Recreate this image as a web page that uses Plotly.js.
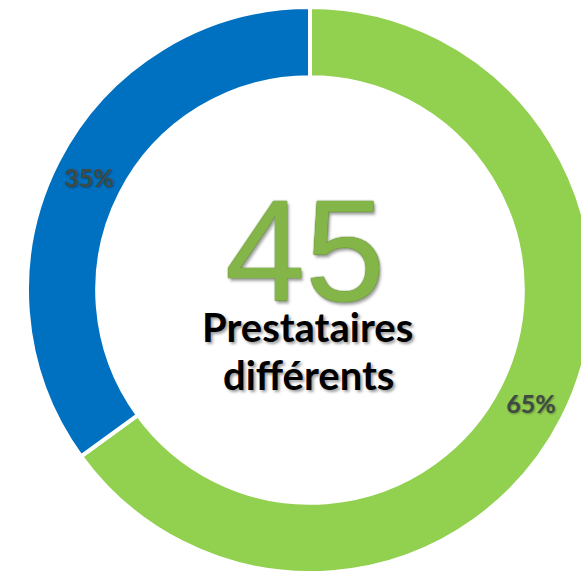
<!DOCTYPE html>
<html>
<head>
<meta charset="utf-8">
<script src="https://cdn.plot.ly/plotly-3.0.1.min.js"></script>
<style>
html,body{margin:0;padding:0;overflow:hidden;background:#fff;}
#chart{width:620px;height:600px;}
</style>
</head>
<body>
<div id="chart"></div>
<script>
const categories = ["Groupe A", "Groupe B"];
const values = [65, 35];
const sliceLabels = ["65%", "35%"];
const colors = ["#92D050", "#0070C0"];
const centerNumber = "45";
const centerLine1 = "Prestataires";
const centerLine2 = "différents";

const W = 620, H = 600;
const px = x => x / W;
const py = y => 1 - y / H;

const trace = {
  type: "pie",
  labels: categories,
  values: values,
  text: sliceLabels,
  textinfo: "text",
  textposition: "inside",
  insidetextorientation: "horizontal",
  sort: false,
  direction: "clockwise",
  rotation: 0,
  hole: 0.752,
  marker: {colors: colors, line: {color: "#ffffff", width: 4}},
  textfont: {family: "Lato, 'Open Sans', sans-serif", size: 25, weight: "bold", color: "#3f4a44",
             shadow: "1px 1px 2px rgba(0,0,0,0.35)"},
  hoverinfo: "none",
  domain: {x: [px(27), px(593)], y: [py(573), py(7)]}
};

const layout = {
  width: W, height: H,
  margin: {l: 0, r: 0, t: 0, b: 0},
  paper_bgcolor: "#ffffff",
  showlegend: false,
  annotations: [
    {text: centerNumber, xref: "paper", yref: "paper", x: px(305), y: py(251),
     xanchor: "center", yanchor: "middle", showarrow: false,
     font: {family: "'Liberation Sans', Arial, sans-serif", size: 144, color: "#84b548",
            shadow: "0px 0px 1px #4f7a22, 0px 0px 2px #5d8a2c, 2px 3px 3px rgba(0,0,0,0.35)"}},
    {text: "<b>" + centerLine1 + "</b>", xref: "paper", yref: "paper", x: px(307), y: py(327),
     xanchor: "center", yanchor: "middle", showarrow: false,
     font: {family: "Lato, 'Open Sans', sans-serif", size: 40, color: "#000000",
            shadow: "2px 2px 3px rgba(0,0,0,0.4)"}},
    {text: "<b>" + centerLine2 + "</b>", xref: "paper", yref: "paper", x: px(308), y: py(375),
     xanchor: "center", yanchor: "middle", showarrow: false,
     font: {family: "Lato, 'Open Sans', sans-serif", size: 40, color: "#000000",
            shadow: "2px 2px 3px rgba(0,0,0,0.4)"}}
  ]
};

Plotly.newPlot("chart", [trace], layout, {displayModeBar: false, staticPlot: true});
</script>
</body>
</html>
